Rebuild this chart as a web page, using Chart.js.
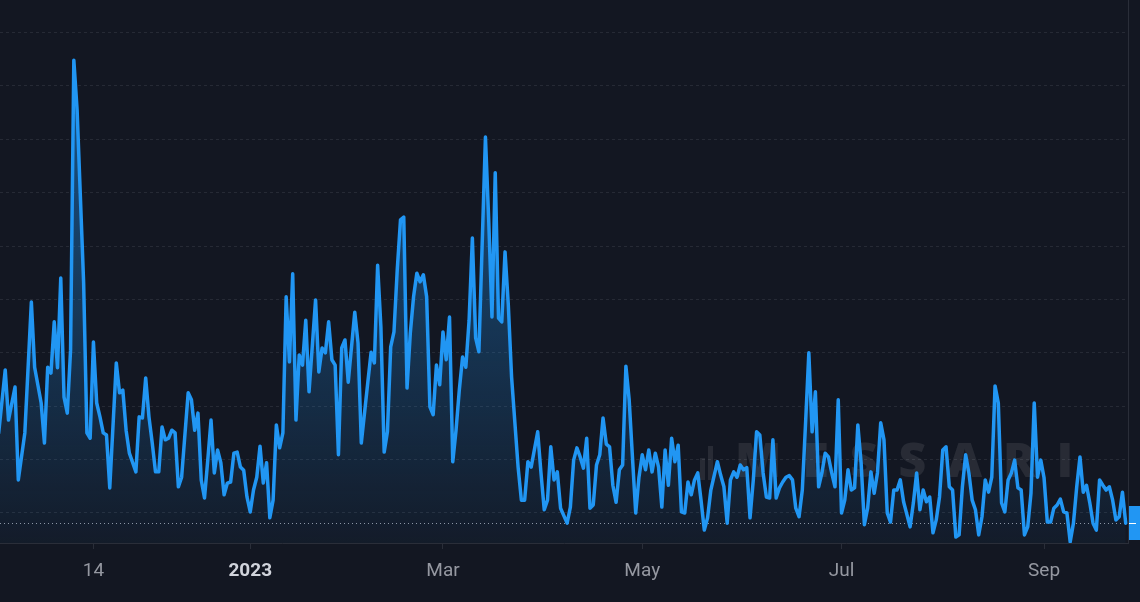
<!DOCTYPE html>
<html>
<head>
<meta charset="utf-8">
<script src="https://cdn.jsdelivr.net/npm/chart.js@4.4.0/dist/chart.umd.min.js"></script>
<style>
  html, body { margin: 0; padding: 0; background: #131722; }
  canvas { display: block; }
</style>
</head>
<body>
<canvas id="chart" width="1140" height="602"></canvas>
<script>
// x = days since 2023-01-01, y = daily value
const octNov22 = [
  [-77, 25.0], [-75, 36.8], [-74, 27.4], [-72, 33.6], [-71, 16.2], [-69, 25.0], [-67, 49.5], [-66, 37.3],
  [-64, 30.6], [-63, 23.1], [-62, 37.3], [-61, 36.2], [-60, 45.8], [-59, 37.2], [-58, 54.0], [-57, 31.7],
  [-56, 28.7], [-55, 40.5], [-54, 94.8], [-53, 85.5], [-51, 53.1], [-50, 25.0], [-49, 24.0], [-48, 42.0],
  [-47, 30.6], [-46, 28.0], [-45, 25.0], [-44, 24.6], [-43, 14.7], [-41, 38.1], [-40, 32.5], [-39, 33.0],
  [-38, 25.5], [-37, 21.2], [-35, 17.7], [-34, 28.0], [-33, 27.8], [-32, 35.3], [-31, 28.0], [-30, 23.1],
  [-29, 17.7], [-28, 17.7], [-27, 26.1], [-26, 23.7], [-25, 24.0], [-24, 25.5], [-23, 25.0], [-22, 14.9],
  [-21, 16.7], [-19, 32.5]
];
const decJan = [
  [-18, 31.2], [-17, 25.5], [-16, 28.7], [-15, 16.2], [-14, 12.8], [-13, 19.9], [-12, 27.4], [-11, 17.5],
  [-10, 21.8], [-9, 19.4], [-8, 13.4], [-7, 15.6], [-6, 15.8], [-5, 21.2], [-4, 21.4], [-3, 18.6],
  [-2, 18.0], [-1, 13.0], [0, 10.2], [1, 14.3], [2, 16.7], [3, 22.5], [4, 15.6], [5, 19.4],
  [6, 9.1], [7, 12.4], [8, 26.5], [9, 22.2], [10, 25.0], [11, 50.5], [12, 38.3], [13, 54.8],
  [14, 27.4], [15, 39.6], [16, 37.7], [17, 46.1], [18, 32.7], [20, 49.9], [21, 36.4], [22, 40.9],
  [23, 40.0], [24, 45.8], [25, 38.7], [26, 37.7], [27, 20.9], [28, 40.9], [29, 42.4], [30, 34.5],
  [32, 47.6], [33, 41.8], [34, 23.1], [36, 34.5], [37, 40.1], [38, 38.1]
];
const febMar = [
  [39, 56.4], [40, 44.8], [41, 21.4], [42, 25.2], [43, 41.1], [44, 43.9], [45, 55.5], [46, 64.9],
  [47, 65.4], [48, 33.4], [49, 43.7], [50, 50.5], [51, 54.9], [52, 53.3], [53, 54.6], [54, 50.5],
  [55, 29.9], [56, 28.4], [57, 37.7], [58, 34.0], [59, 43.9], [60, 38.7], [61, 46.7], [62, 19.6],
  [63, 25.5], [64, 33.0], [65, 39.2], [66, 37.3], [67, 46.1], [68, 61.5], [69, 42.8], [70, 40.2],
  [72, 80.4], [73, 64.9], [74, 46.7], [75, 73.7], [76, 46.5], [77, 45.8], [78, 58.9], [79, 49.0],
  [80, 35.5], [81, 27.0], [82, 18.6], [83, 12.4], [84, 12.4], [85, 19.6], [86, 18.6], [88, 25.2],
  [89, 17.5], [90, 10.6], [91, 12.4], [92, 22.4], [93, 16.2], [94, 17.7], [95, 10.9]
];
const aprJun = [
  [97, 8.1], [98, 11.1], [99, 19.9], [100, 22.2], [101, 20.5], [102, 18.4], [103, 24.0], [104, 10.9],
  [105, 11.5], [106, 19.0], [107, 20.9], [108, 27.8], [109, 22.9], [110, 22.4], [111, 15.2], [112, 12.0],
  [113, 18.1], [114, 19.0], [115, 37.5], [116, 31.2], [117, 20.5], [118, 10.0], [119, 16.7], [120, 20.9],
  [121, 18.1], [122, 21.8], [123, 17.7], [124, 21.2], [125, 18.6], [126, 11.1], [127, 21.8], [128, 15.2],
  [129, 24.0], [130, 19.6], [131, 22.7], [132, 10.2], [133, 10.0], [134, 15.8], [135, 13.4], [136, 16.2],
  [137, 17.5], [138, 12.4], [139, 6.8], [140, 9.1], [141, 14.3], [143, 19.6], [144, 17.1], [145, 14.9],
  [146, 8.1], [147, 16.2], [148, 17.7], [149, 16.7], [150, 19.0], [151, 18.1], [152, 18.5], [153, 9.1]
];
const junJul = [
  [154, 16.2], [155, 25.2], [156, 24.6], [157, 17.5], [158, 13.0], [159, 12.8], [160, 23.7], [161, 12.8],
  [162, 14.7], [163, 15.8], [164, 16.7], [165, 17.0], [166, 16.2], [167, 10.9], [168, 9.3], [169, 14.3],
  [170, 26.9], [171, 40.0], [172, 25.2], [173, 32.7], [174, 14.9], [175, 17.5], [176, 21.2], [177, 20.5],
  [178, 17.5], [179, 14.9], [180, 31.2], [181, 10.0], [182, 12.4], [183, 18.1], [184, 14.3], [185, 14.7],
  [186, 26.5], [187, 19.4], [188, 7.8], [189, 10.9], [190, 17.7], [191, 13.7], [192, 17.5], [193, 26.9],
  [194, 23.7], [195, 10.0], [196, 8.3], [197, 14.3], [198, 14.3], [199, 16.2], [200, 12.1], [202, 7.4],
  [203, 11.9], [204, 17.5], [205, 10.6], [206, 14.3], [207, 12.1], [208, 13.0], [209, 6.3], [210, 8.7]
];
const augSep = [
  [211, 13.0], [212, 21.8], [213, 22.4], [214, 14.9], [215, 14.3], [216, 5.5], [217, 5.9], [218, 14.9],
  [219, 20.9], [220, 17.5], [221, 12.4], [222, 10.6], [223, 5.9], [224, 9.3], [225, 16.2], [226, 13.9],
  [227, 16.7], [228, 33.8], [229, 30.6], [230, 11.9], [231, 10.2], [232, 16.2], [233, 17.5], [234, 19.9],
  [235, 14.7], [236, 14.3], [237, 5.9], [238, 7.4], [239, 13.7], [240, 30.6], [241, 16.7], [242, 19.9],
  [243, 16.6], [244, 8.3], [245, 8.3], [246, 10.9], [247, 11.5], [248, 12.6], [249, 10.2], [250, 10.0],
  [251, 4.6], [252, 8.1], [253, 14.9], [254, 20.5], [255, 13.9], [256, 15.2], [257, 11.9], [258, 8.1],
  [259, 6.8], [260, 16.2], [261, 15.2], [262, 14.3], [263, 14.9], [264, 12.4], [265, 8.7], [266, 9.3],
  [267, 13.9], [268, 8.1]
];

const tickDays = [-48, 0, 59, 120, 181, 243];
const tickLabels = ['14', '2023', 'Mar', 'May', 'Jul', 'Sep'];
const gridValues = [10, 20, 30, 40, 50, 60, 70, 80, 90, 100];

const series = [...octNov22, ...decJan, ...febMar, ...aprJun, ...junJul, ...augSep];
const lastValue = series[series.length - 1][1];

const lineColor = '#2196f3';

// faint watermark (logo bars + name) behind the series
const watermark = {
  id: 'watermark',
  beforeDatasetsDraw(chart) {
    const ctx = chart.ctx;
    ctx.save();
    ctx.fillStyle = 'rgba(255,255,255,0.09)';
    ctx.fillRect(700, 458, 5, 22);
    ctx.fillRect(708, 446, 5, 34);
    ctx.font = '800 48px "Open Sans"';
    ctx.letterSpacing = '21px';
    ctx.textBaseline = 'middle';
    ctx.fillText('MESSARI', 735, 463);
    ctx.restore();
  }
};

// dotted last-value line and the price label stub on the right
const lastLine = {
  id: 'lastLine',
  beforeDatasetsDraw(chart) {
    const { ctx, chartArea: a, scales: { y } } = chart;
    const py = Math.round(y.getPixelForValue(lastValue)) + 0.5;
    ctx.save();
    ctx.strokeStyle = 'rgba(190,195,205,0.75)';
    ctx.lineWidth = 1;
    ctx.setLineDash([1, 3]);
    ctx.beginPath();
    ctx.moveTo(a.left, py);
    ctx.lineTo(a.right, py);
    ctx.stroke();
    ctx.restore();
  },
  afterDraw(chart) {
    const { ctx, chartArea: a, scales: { y } } = chart;
    const py = Math.round(y.getPixelForValue(lastValue));
    ctx.save();
    ctx.fillStyle = lineColor;
    ctx.fillRect(a.right + 1, py - 17, chart.width - a.right, 34);
    ctx.fillStyle = '#ffffff';
    ctx.fillRect(a.right + 1, py, 7, 1);
    ctx.restore();
  }
};

new Chart(document.getElementById('chart'), {
  type: 'line',
  data: {
    datasets: [{
      data: series.map(([d, v]) => ({ x: d, y: v })),
      borderColor: lineColor,
      borderWidth: 3.5,
      borderJoinStyle: 'round',
      borderCapStyle: 'round',
      pointRadius: 0,
      tension: 0,
      fill: 'start',
      backgroundColor: (c) => {
        const a = c.chart.chartArea;
        if (!a) return 'transparent';
        const g = c.chart.ctx.createLinearGradient(0, a.top, 0, a.bottom);
        g.addColorStop(0, 'rgba(33,150,243,0.55)');
        g.addColorStop(1, 'rgba(33,150,243,0.04)');
        return g;
      }
    }]
  },
  options: {
    responsive: false,
    animation: false,
    layout: { padding: { right: 12 } },
    plugins: { legend: { display: false }, tooltip: { enabled: false } },
    scales: {
      x: {
        type: 'linear',
        min: -76.6,
        max: 268.7,
        afterBuildTicks: (s) => { s.ticks = tickDays.map(v => ({ value: v })); },
        afterFit: (s) => { s.height = 59; },
        grid: { drawOnChartArea: false, drawTicks: true, tickLength: 6, color: '#2a2e39' },
        border: { display: true, color: '#2a2e39' },
        ticks: {
          autoSkip: false,
          maxRotation: 0,
          padding: 11,
          callback: (v, i) => tickLabels[i],
          color: (c) => c.index === 1 ? '#d1d4dc' : '#9598a1',
          font: (c) => ({ family: 'Roboto', size: 19, weight: c.index === 1 ? 'bold' : 'normal' })
        }
      },
      y: {
        position: 'right',
        min: 4.38,
        max: 106.07,
        afterBuildTicks: (s) => { s.ticks = gridValues.map(v => ({ value: v })); },
        afterFit: (s) => { s.width = 0; },
        ticks: { display: false },
        grid: { color: '#262a35', drawTicks: false },
        border: { display: true, color: '#2a2e39', dash: [3, 3] }
      }
    }
  },
  plugins: [watermark, lastLine]
});
</script>
</body>
</html>
